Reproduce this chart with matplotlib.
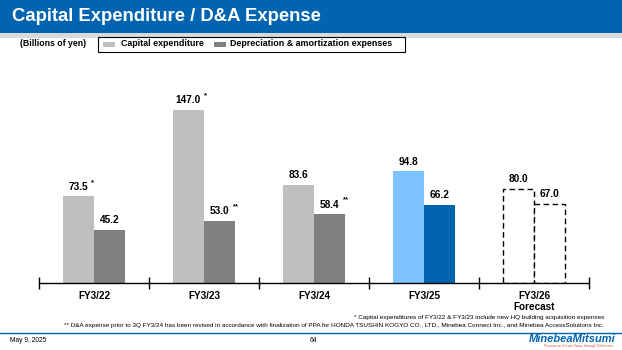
import matplotlib
matplotlib.use("Agg")
import matplotlib.pyplot as plt
from matplotlib.patches import Rectangle
import numpy as np

plt.rcParams['font.family'] = ['Liberation Sans', 'DejaVu Sans']

categories = ["FY3/22", "FY3/23", "FY3/24", "FY3/25", "FY3/26\nForecast"]
capex = [73.5, 147.0, 83.6, 94.8, 80.0]
dna = [45.2, 53.0, 58.4, 66.2, 67.0]
capex_marks = ["*", "*", "", "", ""]
dna_marks = ["", "**", "**", "", ""]

W, H = 622, 350
fig = plt.figure(figsize=(W / 100, H / 100), dpi=100)

def fx(px):
    return px / W

def fy(py):
    return 1 - py / H

# Header
fig.patches.append(Rectangle((0, fy(33)), 1, 33 / H, transform=fig.transFigure,
                             facecolor="#0064B0", edgecolor="none", zorder=0))
fig.patches.append(Rectangle((0, fy(38)), 1, 5 / H, transform=fig.transFigure,
                             facecolor="#D9D9D9", edgecolor="none", zorder=0))
fig.text(fx(12), fy(16.5), "Capital Expenditure / D&A Expense", color="white",
         fontsize=13.3, fontweight="bold", va="center", ha="left")

# Legend row
fig.text(fx(20), fy(44), "(Billions of yen)", fontsize=6.3, fontweight="bold",
         va="center", ha="left")
fig.patches.append(Rectangle((fx(98), fy(51.5)), fx(405) - fx(98), 15 / H,
                             transform=fig.transFigure, facecolor="white",
                             edgecolor="black", linewidth=0.8))
fig.patches.append(Rectangle((fx(103), fy(47)), 12 / W, 5 / H, transform=fig.transFigure,
                             facecolor="#BFBFBF", edgecolor="none"))
fig.text(fx(121), fy(44), "Capital expenditure", fontsize=6.4, fontweight="bold",
         va="center", ha="left")
fig.patches.append(Rectangle((fx(214), fy(47)), 12 / W, 5 / H, transform=fig.transFigure,
                             facecolor="#808080", edgecolor="none"))
fig.text(fx(230), fy(44), "Depreciation & amortization expenses", fontsize=6.4,
         fontweight="bold", va="center", ha="left")

# Axes
ax_left, ax_right, ax_bottom, ax_top = 39, 589, 283, 60
ax = fig.add_axes([fx(ax_left), fy(ax_bottom), (ax_right - ax_left) / W,
                   (ax_bottom - ax_top) / H])
scale = 1.177
ax.set_ylim(0, (ax_bottom - ax_top) / scale)
ax.set_xlim(-0.5, len(categories) - 0.5)

x = np.arange(len(categories))
bw = 0.285
cap_colors = ["#BFBFBF", "#BFBFBF", "#BFBFBF", "#7DC3FF", "white"]
dna_colors = ["#808080", "#808080", "#808080", "#0064B0", "white"]
labels = []
for i in range(len(categories)):
    forecast = i == len(categories) - 1
    ec = "black" if forecast else "none"
    ls = (0, (4, 2.5)) if forecast else "-"
    ax.bar(x[i] - bw / 2, capex[i], width=bw, color=cap_colors[i], edgecolor=ec,
           linestyle=ls, linewidth=1.0)
    ax.bar(x[i] + bw / 2, dna[i], width=bw, color=dna_colors[i], edgecolor=ec,
           linestyle=ls, linewidth=1.0)
    t1 = ax.text(x[i] - bw / 2, capex[i] + 4, f"{capex[i]:.1f}", ha="center", va="bottom",
                 fontsize=7.3, fontweight="bold")
    t2 = ax.text(x[i] + bw / 2, dna[i] + 4, f"{dna[i]:.1f}", ha="center", va="bottom",
                 fontsize=7.3, fontweight="bold")
    labels.append((t1, capex_marks[i]))
    labels.append((t2, dna_marks[i]))

for s in ["top", "right", "left"]:
    ax.spines[s].set_visible(False)
ax.spines["bottom"].set_linewidth(1.0)
ax.set_yticks([])
ax.set_xticks(np.arange(-0.5, len(categories), 1.0))
ax.set_xticklabels([])
ax.tick_params(axis="x", direction="inout", length=8, width=1.0)
for i, c in enumerate(categories):
    ax.text(x[i], -7, c, ha="center", va="top", fontsize=7.2, fontweight="bold",
            linespacing=1.1)

# superscript marks next to value labels
fig.canvas.draw()
renderer = fig.canvas.get_renderer()
for t, m in labels:
    if not m:
        continue
    bb = t.get_window_extent(renderer)
    fig.text((bb.x1 + 3) / W, (bb.y1 + 3) / H, m, fontsize=5.5, fontweight="bold",
             ha="left", va="top")

# Footnotes
fig.text(fx(604), fy(317), "* Capital expenditures of FY3/22 & FY3/23 include new HQ building acquisition expenses",
         fontsize=4.6, ha="right", va="center")
fig.text(fx(604), fy(326), "** D&A expense prior to 3Q FY3/24 has been revised in accordance with finalization of PPA for HONDA TSUSHIN KOGYO CO., LTD., Minebea Connect Inc., and Minebea AccessSolutions Inc.",
         fontsize=4.6, ha="right", va="center")

# Footer
fig.lines.append(plt.Line2D([0, 1], [fy(333), fy(333)], transform=fig.transFigure,
                            color="#0064B0", linewidth=1.0))
fig.text(fx(10), fy(341), "May 9, 2025", fontsize=4.8, ha="left", va="center")
fig.text(fx(313), fy(341), "64", fontsize=4.8, ha="center", va="center")
fig.text(fx(616), fy(339), "MinebeaMitsumi", fontsize=8, ha="right", va="center",
         color="#0064B0", fontweight="bold", style="italic")
fig.text(fx(614), fy(346.5), "Passion to Create Value through Difference", fontsize=2.6,
         ha="right", va="center", color="#E05050")

fig.savefig("out.png", dpi=100)
